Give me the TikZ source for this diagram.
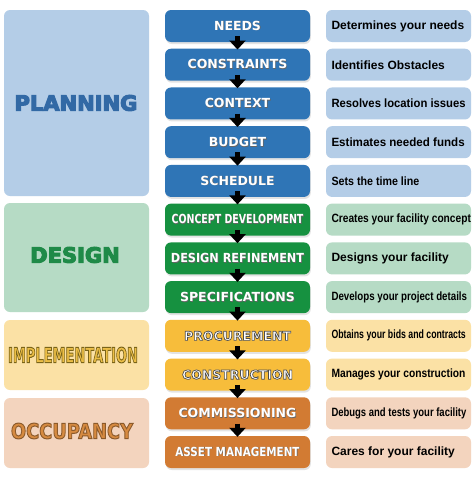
\documentclass[tikz,border=0pt]{standalone}
\usepackage{fontspec}
\usetikzlibrary{arrows.meta,shadows}
\newfontfamily\dvs{DejaVu Sans}
\newfontfamily\lbs{Liberation Sans}
\definecolor{blueD}{RGB}{47,117,182}
\definecolor{blueL}{RGB}{180,205,231}
\definecolor{greenD}{RGB}{22,145,64}
\definecolor{greenL}{RGB}{182,219,197}
\definecolor{yellowD}{RGB}{247,189,59}
\definecolor{yellowL}{RGB}{251,225,165}
\definecolor{orangeD}{RGB}{210,123,51}
\definecolor{orangeL}{RGB}{243,212,190}
\definecolor{planT}{RGB}{50,105,165}
\definecolor{desT}{RGB}{31,138,72}
\definecolor{impF}{RGB}{236,190,70}
\definecolor{occF}{RGB}{214,138,64}
\newcommand\shtxt[1]{\rlap{\hspace{0.6pt}\raisebox{-0.7pt}{\textcolor{black!60}{#1}}}#1}
% #1 line width, #2 stroke colour as "r g b", #3 fill colour, #4 text
\newcommand\stxt[4]{{\color{#3}\special{pdf:literal direct 2 Tr #1 w #2 RG}#4\special{pdf:literal direct 0 Tr}}}
\newcommand\rtxt[1]{\makebox[134pt][l]{#1}}
\tikzset{
  lbox/.style={rounded corners=6pt, minimum width=145pt, inner sep=0pt},
  midbox/.style={rounded corners=6pt, minimum width=145pt, minimum height=32pt, inner sep=0pt,
    text=white, font=\dvs\bfseries\fontsize{12.5}{14}\selectfont,
    drop shadow={opacity=0.22, shadow xshift=0.8pt, shadow yshift=-2pt}},
  rbox/.style={rounded corners=6pt, minimum width=145pt, minimum height=32pt, inner xsep=5.5pt,
    inner ysep=0pt, text=black, font=\lbs\bfseries\fontsize{12}{14}\selectfont},
  bigtxt/.style={inner sep=0pt, font=\dvs\bfseries\fontsize{21}{24}\selectfont},
  arr/.style={line width=5pt, -{Triangle[width=16pt,length=9pt]}, black}
}
\begin{document}
\begin{tikzpicture}[x=1pt,y=-1pt]
\useasboundingbox[fill=white] (0,0) rectangle (474,479);
% left phase boxes
\node[lbox, fill=blueL, minimum height=186pt] (pl) at (76.5,103) {};
\node[lbox, fill=greenL, minimum height=109pt] (de) at (76.5,257.5) {};
\node[lbox, fill=yellowL, minimum height=70pt] (im) at (76.5,355) {};
\node[lbox, fill=orangeL, minimum height=70pt] (oc) at (76.5,433) {};
\node[bigtxt] (plt) at (76,103) {\stxt{1.1}{0.196 0.412 0.647}{planT}{PLANNING}};
\node[bigtxt] (det) at (75,255) {\stxt{1.1}{0.122 0.541 0.282}{desT}{DESIGN}};
\node[bigtxt] (imt) at (73,355) {\stxt{1.0}{0.478 0.392 0.094}{impF}{\scalebox{0.62}[1]{IMPLEMENTATION}}};
\node[bigtxt] (oct) at (72,431) {\stxt{1.0}{0.545 0.353 0.169}{occF}{\scalebox{0.85}[1]{OCCUPANCY}}};
% middle step boxes
\node[midbox, fill=blueD] (m1) at (237.5,26) {\shtxt{NEEDS}};
\node[midbox, fill=blueD] (m2) at (237.5,64.73) {\shtxt{CONSTRAINTS}};
\node[midbox, fill=blueD] (m3) at (237.5,103.45) {\shtxt{CONTEXT}};
\node[midbox, fill=blueD] (m4) at (237.5,142.18) {\shtxt{BUDGET}};
\node[midbox, fill=blueD] (m5) at (237.5,180.9) {\shtxt{SCHEDULE}};
\node[midbox, fill=greenD] (m6) at (237.5,219.6) {\shtxt{\scalebox{0.755}[1]{CONCEPT DEVELOPMENT}}};
\node[midbox, fill=greenD] (m7) at (237.5,258.4) {\shtxt{\scalebox{0.9}[1]{DESIGN REFINEMENT}}};
\node[midbox, fill=greenD] (m8) at (237.5,297.1) {\shtxt{SPECIFICATIONS}};
\node[midbox, fill=yellowD] (m9) at (237.5,335.8) {\stxt{0.7}{0.3 0.3 0.3}{white}{PROCUREMENT}};
\node[midbox, fill=yellowD] (m10) at (237.5,374.6) {\stxt{0.7}{0.3 0.3 0.3}{white}{CONSTRUCTION}};
\node[midbox, fill=orangeD] (m11) at (237.5,413.3) {\shtxt{COMMISSIONING}};
\node[midbox, fill=orangeD] (m12) at (237.5,452) {\shtxt{\scalebox{0.83}[1]{ASSET MANAGEMENT}}};
% right description boxes
\node[rbox, fill=blueL] (r1) at (398.5,26) {\rtxt{Determines your needs}};
\node[rbox, fill=blueL] (r2) at (398.5,64.73) {\rtxt{Identifies Obstacles}};
\node[rbox, fill=blueL] (r3) at (398.5,103.45) {\rtxt{\scalebox{0.94}[1]{Resolves location issues}}};
\node[rbox, fill=blueL] (r4) at (398.5,142.18) {\rtxt{\scalebox{0.965}[1]{Estimates needed funds}}};
\node[rbox, fill=blueL] (r5) at (398.5,180.9) {\rtxt{\scalebox{0.89}[1]{Sets the time line}}};
\node[rbox, fill=greenL] (r6) at (398.5,219.6) {\rtxt{\scalebox{0.85}[1]{Creates your facility concept}}};
\node[rbox, fill=greenL] (r7) at (398.5,258.4) {\rtxt{Designs your facility}};
\node[rbox, fill=greenL] (r8) at (398.5,297.1) {\rtxt{\scalebox{0.81}[1]{Develops your project details}}};
\node[rbox, fill=yellowL] (r9) at (398.5,335.8) {\rtxt{\scalebox{0.73}[1]{Obtains your bids and contracts}}};
\node[rbox, fill=yellowL] (r10) at (398.5,374.6) {\rtxt{\scalebox{0.855}[1]{Manages your construction}}};
\node[rbox, fill=orangeL] (r11) at (398.5,413.3) {\rtxt{\scalebox{0.79}[1]{Debugs and tests your facility}}};
\node[rbox, fill=orangeL] (r12) at (398.5,452) {\rtxt{Cares for your facility}};
% arrows
\foreach \a/\b in {m1/m2,m2/m3,m3/m4,m4/m5,m5/m6,m6/m7,m7/m8,m8/m9,m9/m10,m10/m11,m11/m12}
  \draw[arr] ([yshift=6pt]\a.south) -- ([yshift=-1pt]\b.north);
\end{tikzpicture}
\end{document}
